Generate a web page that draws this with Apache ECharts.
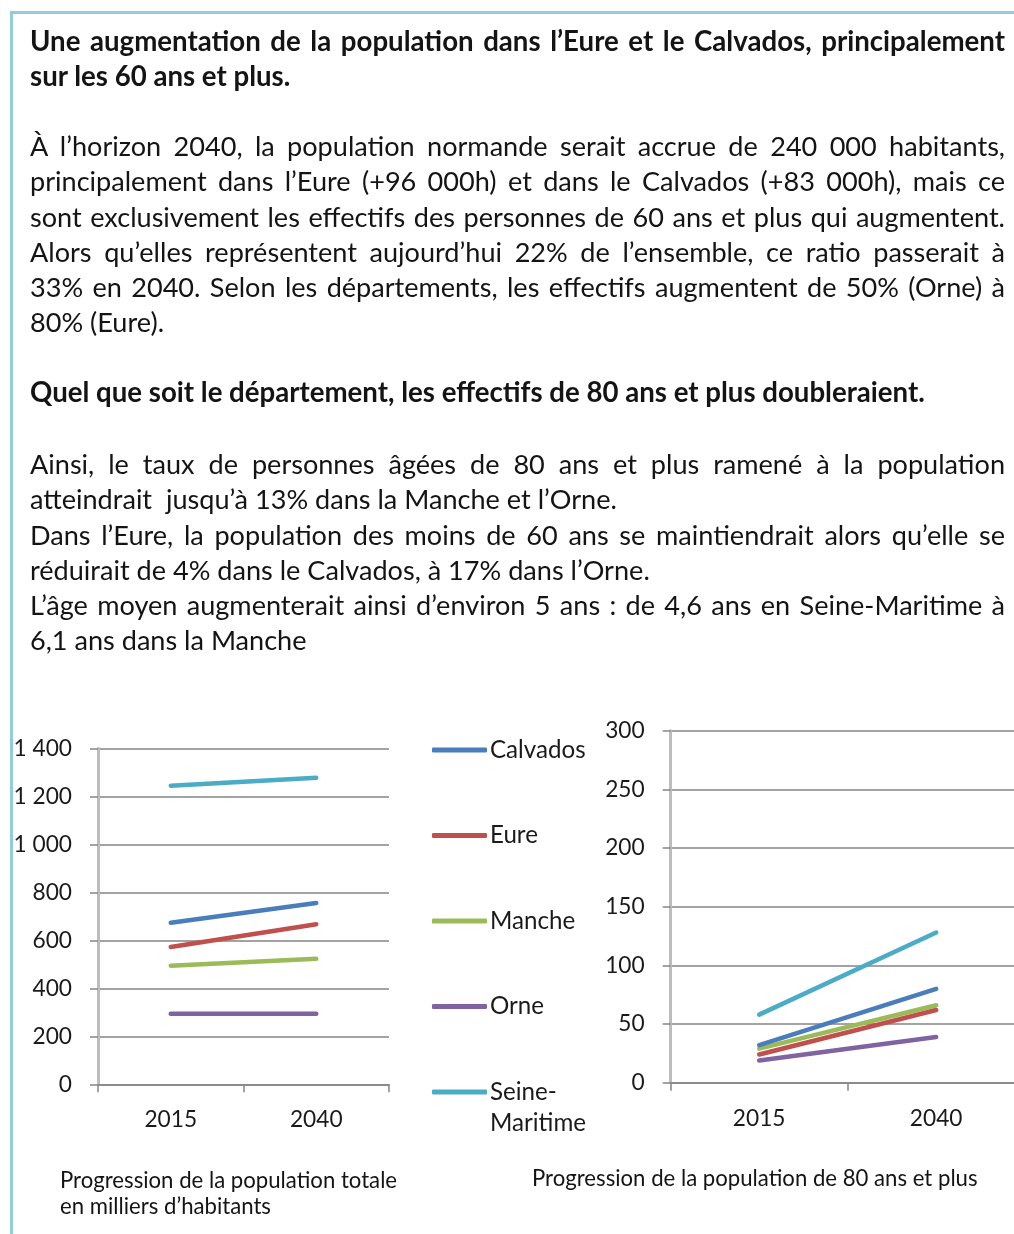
<!DOCTYPE html>
<html>
<head>
<meta charset="utf-8">
<script src="https://cdn.jsdelivr.net/npm/echarts@6/dist/echarts.min.js"></script>
<style>
  html, body { margin:0; padding:0; background:#fff; }
  body { width:1014px; height:1234px; position:relative; overflow:hidden; font-family: Lato, "Noto Sans", sans-serif; color:#141414; }
  #chart { position:absolute; left:0; top:0; width:1100px; height:1234px; z-index:1; }
  .frame { position:absolute; left:10px; top:11px; width:1100px; height:1300px; border-top:3px solid #93cddd; border-left:3px solid #93cddd; z-index:3; pointer-events:none; }
  .blk { position:absolute; left:30px; width:975px; z-index:2; line-height:35.3px; }
  .blk div { white-space:nowrap; }
  .blk div.j { white-space:normal; text-align:justify; text-align-last:justify; }
  .bold { font-weight:700; }
  .cap { position:absolute; z-index:2; line-height:26px; white-space:nowrap; }
</style>
</head>
<body>
<div class="frame"></div>

<div class="blk bold" id="t1" style="top:23px;">
  <div class="j">Une augmentation de la population dans l’Eure et le Calvados, principalement</div>
  <div>sur les 60 ans et plus.</div>
</div>

<div class="blk" id="p1" style="top:128px;">
  <div class="j">À l’horizon 2040, la population normande serait accrue de 240 000 habitants,</div>
  <div class="j">principalement dans l’Eure (+96 000h) et dans le Calvados (+83 000h), mais ce</div>
  <div class="j">sont exclusivement les effectifs des personnes de 60 ans et plus qui augmentent.</div>
  <div class="j">Alors qu’elles représentent aujourd’hui 22% de l’ensemble, ce ratio passerait à</div>
  <div class="j">33% en 2040. Selon les départements, les effectifs augmentent de 50% (Orne) à</div>
  <div>80% (Eure).</div>
</div>

<div class="blk bold" id="t2" style="top:374px;">
  <div>Quel que soit le département, les effectifs de 80 ans et plus doubleraient.</div>
</div>

<div class="blk" id="p2" style="top:446px;">
  <div class="j">Ainsi, le taux de personnes âgées de 80 ans et plus ramené à la population</div>
  <div>atteindrait &nbsp;jusqu’à 13% dans la Manche et l’Orne.</div>
  <div class="j">Dans l’Eure, la population des moins de 60 ans se maintiendrait alors qu’elle se</div>
  <div>réduirait de 4% dans le Calvados, à 17% dans l’Orne.</div>
  <div class="j">L’âge moyen augmenterait ainsi d’environ 5 ans : de 4,6 ans en Seine-Maritime à</div>
  <div>6,1 ans dans la Manche</div>
</div>

<div class="cap" id="c1" style="left:60px; top:1167px;">Progression de la population totale<br>en milliers d’habitants</div>
<div class="cap" id="c2" style="left:532px; top:1165px;">Progression de la population de 80 ans et plus</div>

<div id="chart"></div>

<script>
// ---------- data ----------
const categories = ['2015', '2040'];
const departements = ['Calvados', 'Eure', 'Manche', 'Orne', 'Seine-Maritime'];

// Population totale (milliers d'habitants)
const totCalvados = [673, 755];
const totEure     = [572, 667];
const totManche   = [494, 523];
const totOrne     = [294, 294];
const totSeine    = [1244, 1277];

// Population de 80 ans et plus (milliers)
const p80Calvados = [32, 80];
const p80Eure     = [24, 62];
const p80Manche   = [29, 66];
const p80Orne     = [19, 39];
const p80Seine    = [58, 128];

const leftTicks  = ['0', '200', '400', '600', '800', '1 000', '1 200', '1 400'];
const rightTicks = ['0', '50', '100', '150', '200', '250', '300'];

const colors = ['#4a7ebb', '#c0504d', '#9bbb59', '#8064a2', '#4bacc6'];

// ---------- font fitting (Calibri look-alike sizes) ----------
const cv = document.createElement('canvas').getContext('2d');
function fit(text, weight, target) {
  cv.font = weight + ' 100px Lato';
  return 100 * target / cv.measureText(text).width;
}
const fsPara = fit('réduirait de 4% dans le Calvados, à 17% dans l’Orne.', 400, 620);
const fsBold = fit('Quel que soit le département, les effectifs de 80 ans et plus doubleraient.', 700, 895);
const fsAxis = fit('2015', 400, 52.7);
const fsLeg  = fit('Calvados', 400, 95.7);
const fsCap  = fit('Progression de la population de 80 ans et plus', 400, 446);

['p1', 'p2'].forEach(id => document.getElementById(id).style.fontSize = fsPara + 'px');
['t1', 't2'].forEach(id => document.getElementById(id).style.fontSize = fsBold + 'px');
['c1', 'c2'].forEach(id => document.getElementById(id).style.fontSize = fsCap + 'px');

// ---------- chart ----------
const chart = echarts.init(document.getElementById('chart'), null, { renderer: 'canvas' });

const gridColor = '#858585';
const axisColor = '#bdbdbd';
const labelColor = '#1a1a1a';

function xAxis(gridIndex) {
  return {
    type: 'category', gridIndex, data: categories, boundaryGap: true,
    axisLine: { show: true, lineStyle: { color: gridColor, width: 1.5 } },
    axisTick: { show: true, length: 8, lineStyle: { color: gridColor, width: 1.5 } },
    axisLabel: { color: labelColor, fontSize: fsAxis, fontFamily: 'Lato', margin: 22, lineHeight: fsAxis * 1.2 },
    splitLine: { show: false }
  };
}
function yAxis(gridIndex, max, interval, ticks) {
  return {
    type: 'value', gridIndex, min: 0, max, interval,
    axisLine: { show: true, lineStyle: { color: axisColor, width: 3 } },
    axisTick: { show: true, length: 8, lineStyle: { color: gridColor, width: 1.5 } },
    axisLabel: { color: labelColor, fontSize: fsAxis, fontFamily: 'Lato', margin: 26,
      formatter: v => ticks[Math.round(v / interval)] },
    splitLine: { show: true, lineStyle: { color: gridColor, width: 1.5 } }
  };
}

const totData = [totCalvados, totEure, totManche, totOrne, totSeine];
const p80Data = [p80Calvados, p80Eure, p80Manche, p80Orne, p80Seine];

const series = [];
departements.forEach((name, i) => {
  series.push({
    name, type: 'line', xAxisIndex: 0, yAxisIndex: 0, data: totData[i],
    symbol: 'none', lineStyle: { color: colors[i], width: 4.5, cap: 'round' },
    itemStyle: { color: colors[i] }, silent: true, z: 10 - i
  });
});
departements.forEach((name, i) => {
  series.push({
    name, type: 'line', xAxisIndex: 1, yAxisIndex: 1, data: p80Data[i],
    symbol: 'none', lineStyle: { color: colors[i], width: 4.5, cap: 'round' },
    itemStyle: { color: colors[i] }, silent: true, z: 10 - i
  });
});

const legLH = 31;
const legendBase = {
  orient: 'vertical', left: 432, padding: 0,
  itemWidth: 55, itemHeight: 5, itemGap: 85.5 - legLH, icon: 'roundRect',
  selectedMode: false,
  textStyle: { color: labelColor, fontSize: fsLeg, fontFamily: 'Lato', lineHeight: legLH, padding: [0, 0, 0, -2] }
};
chart.setOption({
  animation: false,
  textStyle: { fontFamily: 'Lato' },
  grid: [
    { left: 98, top: 748.3, width: 291, height: 336 },
    { left: 670.7, top: 730.7, width: 354, height: 352 }
  ],
  xAxis: [xAxis(0), xAxis(1)],
  yAxis: [yAxis(0, 1400, 200, leftTicks), yAxis(1, 300, 50, rightTicks)],
  legend: [
    Object.assign({}, legendBase, { top: 750 - legLH / 2, data: departements.slice(0, 4) }),
    Object.assign({}, legendBase, { top: 1092 - legLH * 1.5, data: departements.slice(4),
      formatter: n => '\n' + n.replace('-', '-\n') })
  ],
  series
});
</script>
</body>
</html>
